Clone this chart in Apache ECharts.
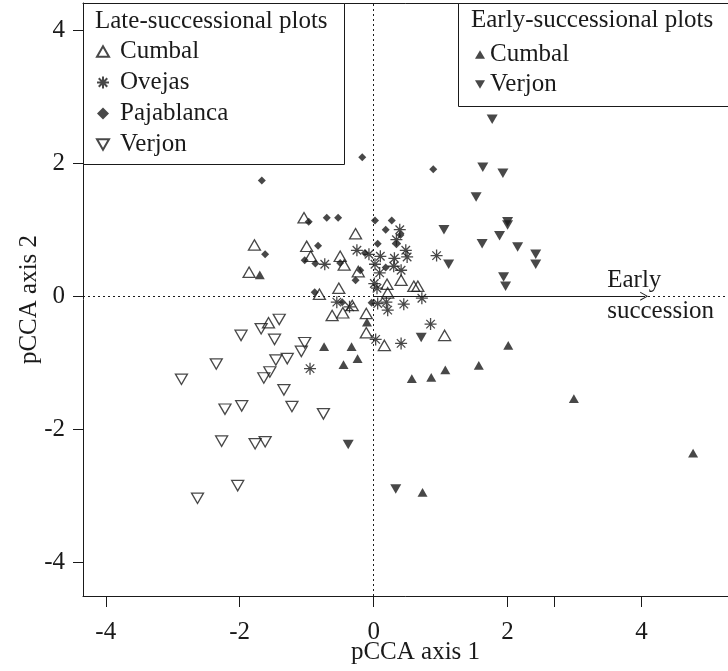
<!DOCTYPE html>
<html>
<head>
<meta charset="utf-8">
<script src="https://cdn.jsdelivr.net/npm/echarts@6/dist/echarts.min.js"></script>
<style>html,body{margin:0;padding:0;background:#fff}#c{width:728px;height:671px}</style>
</head>
<body>
<div id="c"></div>
<script>
// ---- data ----
const xTickLabels = [-4, -2, 0, 2, 4];
const xTickMarks = [-4, -2, 0, 2, 2.7, 4];
const yTickLabels = [-4, -2, 0, 2, 4];
const xAxisName = 'pCCA axis 1';
const yAxisName = 'pCCA axis 2';
const lateTitle = 'Late-successional plots';
const earlyTitle = 'Early-successional plots';
const lateNames = ['Cumbal', 'Ovejas', 'Pajablanca', 'Verjon'];
const earlyNames = ['Cumbal ', 'Verjon '];
const arrowTip = [4.04, 0];
const arrowLabel = 'Early\nsuccession';

const lateCumbal = [[-1.04,1.18],[-1.78,0.77],[-1.00,0.75],[-0.94,0.60],[-1.86,0.36],[-1.57,-0.40],[-0.27,0.94],[-0.50,0.60],[-0.44,0.47],[-0.23,0.37],[0.41,0.24],[0.20,0.18],[0.60,0.15],[0.66,0.15],[0.21,0.05],[-0.81,0.03],[-0.52,0.12],[-0.32,-0.14],[-0.62,-0.29],[-0.46,-0.25],[-0.11,-0.26],[-0.11,-0.55],[1.06,-0.59],[0.16,-0.74]];
const lateOvejas = [[0.39,1.00],[0.34,0.85],[0.48,0.69],[-0.25,0.69],[-0.07,0.63],[0.10,0.60],[0.50,0.59],[0.31,0.57],[-0.73,0.48],[0.02,0.48],[0.30,0.45],[0.41,0.39],[0.09,0.35],[0.01,0.19],[0.05,0.12],[-0.55,-0.09],[-0.36,-0.16],[0.06,-0.11],[0.19,-0.09],[0.21,-0.21],[0.45,-0.12],[0.72,-0.03],[0.85,-0.42],[0.03,-0.65],[0.41,-0.71],[0.94,0.61],[-0.95,-1.09]];
const latePajablanca = [[-1.67,1.74],[-0.97,1.12],[-0.70,1.18],[-0.53,1.18],[-1.62,0.63],[-0.83,0.76],[-1.03,0.54],[-0.87,0.49],[-0.88,0.06],[-0.50,0.50],[-0.20,0.39],[-0.27,0.24],[-0.47,-0.09],[-0.03,-0.10],[-0.17,2.09],[0.89,1.91],[0.02,1.14],[0.27,1.14],[0.18,1.00],[0.40,0.92],[0.34,0.78],[0.06,0.79],[-0.13,0.65],[0.18,0.43]];
const lateVerjon = [[-1.41,-0.35],[-1.68,-0.49],[-1.98,-0.59],[-1.48,-0.65],[-1.03,-0.70],[-1.08,-0.83],[-2.35,-1.02],[-1.46,-0.96],[-1.29,-0.94],[-1.55,-1.14],[-1.64,-1.23],[-2.87,-1.25],[-1.34,-1.41],[-2.22,-1.70],[-1.97,-1.65],[-1.22,-1.66],[-0.75,-1.77],[-2.27,-2.18],[-1.77,-2.22],[-1.62,-2.19],[-2.03,-2.85],[-2.63,-3.04]];
const earlyCumbal = [[-1.70,0.32],[-0.74,-0.76],[-0.33,-0.76],[-0.24,-0.94],[-0.45,-1.03],[-0.10,-0.39],[0.57,-1.24],[0.86,-1.22],[1.07,-1.11],[1.57,-1.04],[2.01,-0.74],[2.99,-1.54],[4.77,-2.36],[0.73,-2.95]];
const earlyVerjon = [[1.77,2.66],[1.63,1.94],[1.93,1.85],[1.53,1.49],[1.05,1.00],[1.12,0.48],[1.62,0.79],[1.88,0.91],[2.00,1.12],[2.00,1.07],[2.15,0.74],[2.42,0.63],[2.42,0.48],[1.94,0.29],[1.97,0.15],[0.71,-0.62],[-0.38,-2.23],[0.33,-2.90]];

// ---- styling ----
const INK = '#1a1a1a';
const FONT = 'Liberation Serif';
const FS = 25;
const UP = 'path://M5,0L10,8.66L0,8.66Z';
const DOWN = 'path://M0,0L10,0L5,8.66Z';
const STAR = 'path://M5,0L5,10M0,5L10,5M1.46,1.46L8.54,8.54M1.46,8.54L8.54,1.46';

function sc(name, data, symbol, size, filled) {
  return {
    type: 'scatter', name, data, symbol, symbolSize: size,
    itemStyle: filled ? { color: INK, borderWidth: 0 }
                      : { color: 'rgba(255,255,255,0)', borderColor: INK, borderWidth: 1.3 },
    emphasis: { disabled: true }, z: 3
  };
}

const chart = echarts.init(document.getElementById('c'), null, { renderer: 'canvas' });
chart.setOption({
  animation: false,
  backgroundColor: '#fff',
  textStyle: { fontFamily: FONT },
  grid: { left: 83, top: 3, right: -20, bottom: 75, show: false, containLabel: false, outerBoundsMode: 'none' },
  xAxis: [{
    type: 'value', min: -4.34, max: 5.59, position: 'bottom',
    name: xAxisName, nameLocation: 'middle', nameGap: 44, nameMoveOverlap: false,
    nameTextStyle: { fontFamily: FONT, fontSize: FS, color: INK },
    axisLine: { show: true, onZero: false, lineStyle: { color: INK, width: 1 } },
    axisTick: { show: true, length: 11, inside: false, customValues: xTickMarks, lineStyle: { color: INK } },
    axisLabel: { customValues: xTickLabels, fontFamily: FONT, fontSize: FS, color: INK, margin: 24 },
    splitLine: { show: false }
  }, {
    type: 'value', min: -4.34, max: 5.59, position: 'top',
    axisLine: { show: true, onZero: false, lineStyle: { color: INK, width: 1 } },
    axisTick: { show: false }, axisLabel: { show: false }, splitLine: { show: false }
  }],
  yAxis: {
    type: 'value', min: -4.51, max: 4.41,
    name: yAxisName, nameLocation: 'middle', nameGap: 41, nameRotate: 90, nameMoveOverlap: false,
    nameTextStyle: { fontFamily: FONT, fontSize: FS, color: INK },
    axisLine: { show: true, onZero: false, lineStyle: { color: INK, width: 1 } },
    axisTick: { show: true, length: 10, inside: false, customValues: yTickLabels, lineStyle: { color: INK } },
    axisLabel: { customValues: yTickLabels, fontFamily: FONT, fontSize: FS, color: INK, margin: 18 },
    splitLine: { show: false }
  },
  title: [
    { text: lateTitle, left: 95, top: 8, padding: 0, textStyle: { fontFamily: FONT, fontSize: FS, fontWeight: 'normal', color: INK, lineHeight: 26 } },
    { text: earlyTitle, left: 471, top: 7, padding: 0, textStyle: { fontFamily: FONT, fontSize: FS, fontWeight: 'normal', color: INK, lineHeight: 26 } }
  ],
  legend: [
    { data: lateNames, orient: 'vertical', left: 96, top: 39, padding: 0, itemGap: 6, itemWidth: 12, itemHeight: 12,
      selectedMode: false, textStyle: { fontFamily: FONT, fontSize: FS, color: INK, lineHeight: 25, padding: [0,0,0,6] } },
    { data: earlyNames, orient: 'vertical', left: 475, top: 42, padding: 0, itemGap: 5, itemWidth: 10, itemHeight: 10,
      selectedMode: false, textStyle: { fontFamily: FONT, fontSize: FS, color: INK, lineHeight: 25, padding: [0,0,0,0] } }
  ],
  graphic: [
    { type: 'rect', z: 3, shape: { x: 83.5, y: 3.5, width: 261, height: 161 }, style: { fill: '#fff', stroke: INK, lineWidth: 1 } },
    { type: 'rect', z: 3, shape: { x: 458.5, y: 3.5, width: 300, height: 103 }, style: { fill: '#fff', stroke: INK, lineWidth: 1 } }
  ],
  series: [
    {
      type: 'scatter', data: [], silent: true, z: 1,
      markLine: {
        silent: true, symbol: 'none', animation: false,
        lineStyle: { color: INK, width: 1, type: [2, 3] },
        label: { show: false },
        data: [{ xAxis: 0 }, { yAxis: 0 }]
      }
    },
    {
      type: 'scatter', data: [], silent: true, z: 2,
      markLine: {
        silent: true, animation: false,
        symbol: ['none', 'path://M0,10L5,0L10,10L8.8,10L5,2.2L1.2,10Z'], symbolSize: [9, 8],
        lineStyle: { color: INK, width: 1, type: 'solid' },
        label: { show: true, position: 'end', formatter: arrowLabel, fontFamily: FONT, fontSize: FS, color: INK, lineHeight: 31, align: 'left', offset: [-42, 0] },
        data: [[{ coord: [0, 0] }, { coord: arrowTip }]]
      }
    },
    sc('Cumbal', lateCumbal, UP, [12, 10.4], false),
    sc('Ovejas', lateOvejas, STAR, 12, false),
    sc('Pajablanca', latePajablanca, 'diamond', 8, true),
    sc('Verjon', lateVerjon, DOWN, [12, 10.4], false),
    sc('Cumbal ', earlyCumbal, UP, [10, 8.7], true),
    sc('Verjon ', earlyVerjon, DOWN, [11, 9.5], true)
  ]
});
</script>
</body>
</html>
